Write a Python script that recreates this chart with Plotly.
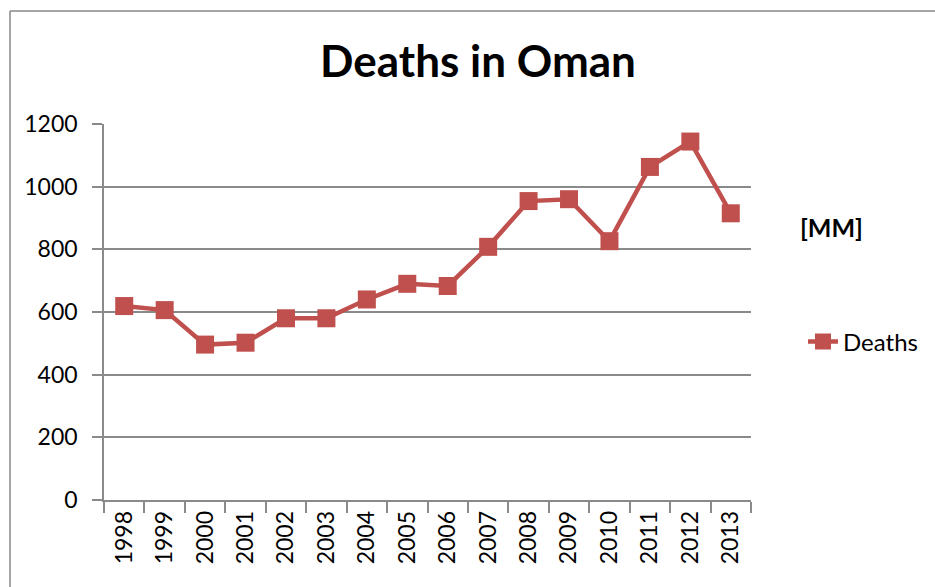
import plotly.graph_objects as go

years = ["1998", "1999", "2000", "2001", "2002", "2003", "2004", "2005",
         "2006", "2007", "2008", "2009", "2010", "2011", "2012", "2013"]
deaths = [619, 606, 496, 502, 580, 580, 640, 690, 683, 808, 954, 960, 826, 1063, 1144, 915]
y_ticks = [0, 200, 400, 600, 800, 1000, 1200]

W, H = 935, 587
L, R, T, B = 104, 751, 124, 500
pw, ph = R - L, B - T

def px(x):
    return (x - L) / pw

def py(y):
    return (B - y) / ph

grid = "#8a8a8a"
red = "#C0504D"
font = "Lato"

fig = go.Figure()
fig.add_trace(go.Scatter(
    x=years, y=deaths, mode="lines+markers", name="Deaths",
    line=dict(color=red, width=4.5),
    marker=dict(symbol="square", size=18, color=red),
))

fig.update_layout(
    width=W, height=H,
    margin=dict(l=L, r=W - R, t=T, b=H - B, pad=0),
    paper_bgcolor="white", plot_bgcolor="white",
    font=dict(family=font, color="#000000", size=23),
    title=dict(text="<b>Deaths in Oman</b>", x=(478) / W, xanchor="center",
               y=1 - 62 / H, yanchor="middle",
               font=dict(family=font, size=44, color="#000000")),
    showlegend=True,
    legend=dict(x=px(803), xanchor="left", y=py(342), yanchor="middle",
                font=dict(family=font, size=24, color="#000000"),
                bgcolor="rgba(0,0,0,0)"),
    xaxis=dict(type="category", range=[-0.5, len(years) - 0.5],
               tickson="boundaries", ticks="outside", ticklen=11,
               tickcolor=grid, tickwidth=1.5,
               showline=True, linecolor=grid, linewidth=1.5,
               showgrid=False, tickangle=-90,
               tickfont=dict(family=font, size=23, color="#000000"),
               fixedrange=True),
    yaxis=dict(range=[0, 1200], tickvals=y_ticks, ticks="outside", ticklen=10,
               tickcolor=grid, tickwidth=1.5,
               showline=True, linecolor=grid, linewidth=1.5,
               showgrid=True, gridcolor=grid, gridwidth=1.5,
               zeroline=False, ticklabelstandoff=10,
               tickfont=dict(family=font, size=23, color="#000000"),
               fixedrange=True),
)

fig.add_annotation(text="<b>[MM]</b>", xref="paper", yref="paper",
                   x=px(831), y=py(227), xanchor="center", yanchor="middle",
                   showarrow=False, font=dict(family=font, size=25, color="#000000"))

# outer chart frame (left and top edges visible)
fig.add_shape(type="line", xref="paper", yref="paper",
              x0=px(10), x1=px(10), y0=py(600), y1=py(11),
              line=dict(color="#888888", width=1.5))
fig.add_shape(type="line", xref="paper", yref="paper",
              x0=px(10), x1=px(950), y0=py(11), y1=py(11),
              line=dict(color="#888888", width=1.5))

fig.write_html("out.html", config={"displayModeBar": False},
               post_script="document.body.style.margin='0';document.body.style.overflow='hidden';")
